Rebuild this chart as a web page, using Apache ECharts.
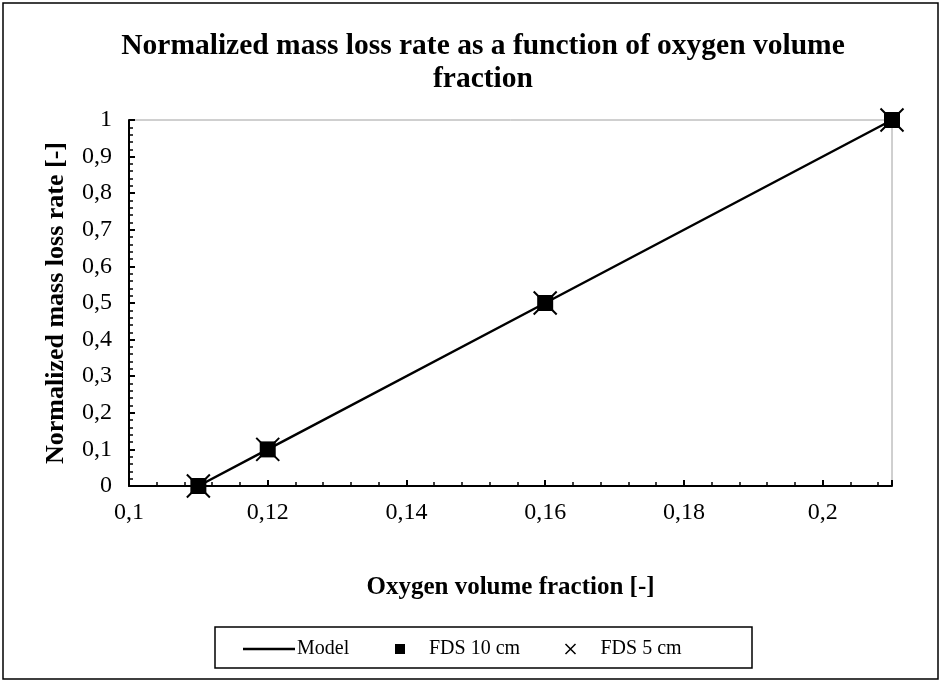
<!DOCTYPE html>
<html><head><meta charset="utf-8">
<script src="https://cdn.jsdelivr.net/npm/echarts@6/dist/echarts.min.js"></script>
<style>html,body{margin:0;padding:0;background:#fff}#c{width:942px;height:682px}</style>
</head><body><div id="c"></div>
<script>
const oxygen = [0.11, 0.12, 0.16, 0.21];
const modelRate = [0, 0.1, 0.5, 1];
const fds10 = [0, 0.1, 0.5, 1];
const fds5 = [0, 0.1, 0.5, 1];
const xTicks = [0.1, 0.12, 0.14, 0.16, 0.18, 0.2];
const yTicks = [0, 0.1, 0.2, 0.3, 0.4, 0.5, 0.6, 0.7, 0.8, 0.9, 1];

const FONT = '"Liberation Serif", serif';
const pairs = a => oxygen.map((x, i) => [x, a[i]]);
const fmt = v => String(+v.toFixed(2)).replace('.', ',');
const chart = echarts.init(document.getElementById('c'));
chart.setOption({
  animation: false,
  backgroundColor: '#fff',
  title: {
    text: 'Normalized mass loss rate as a function of oxygen volume\nfraction',
    left: 478, top: 25, textAlign: 'center',
    textStyle: {fontFamily: FONT, fontSize: 29.5, fontWeight: 'bold', color: '#000', lineHeight: 33}
  },
  grid: {left: 129, right: 50, top: 120, bottom: 196, show: true, borderColor: '#a0a0a0', borderWidth: 1},
  xAxis: [{
    type: 'value', min: 0.1, max: 0.21, interval: 0.02, position: 'bottom',
    name: 'Oxygen volume fraction [-]', nameLocation: 'middle', nameGap: 89,
    nameTextStyle: {fontFamily: FONT, fontSize: 25, fontWeight: 'bold', color: '#000'},
    axisLine: {lineStyle: {color: '#000', width: 2}},
    axisTick: {inside: true, length: 6, lineStyle: {color: '#000', width: 2}},
    axisLabel: {fontFamily: FONT, fontSize: 24, color: '#000', margin: 15,
      formatter: v => xTicks.some(t => Math.abs(t - v) < 1e-6) ? fmt(v) : ''},
    splitLine: {show: false}
  }, {
    type: 'value', min: 0.1, max: 0.21, interval: 0.004, position: 'bottom',
    axisLine: {show: false},
    axisTick: {inside: true, length: 4, lineStyle: {color: '#000', width: 1.5}},
    axisLabel: {show: false}, splitLine: {show: false}
  }],
  yAxis: {
    type: 'value', min: 0, max: 1, interval: 0.1,
    name: 'Normalized mass loss rate [-]', nameLocation: 'middle', nameGap: 60,
    nameTextStyle: {fontFamily: FONT, fontSize: 26, fontWeight: 'bold', color: '#000'},
    axisLine: {show: true, lineStyle: {color: '#000', width: 2}},
    axisTick: {show: true, inside: true, length: 6, lineStyle: {color: '#000', width: 2}},
    minorTick: {show: true, splitNumber: 5, length: 4, lineStyle: {color: '#000', width: 1.5}},
    axisLabel: {fontFamily: FONT, fontSize: 24, color: '#000', margin: 17,
      formatter: v => yTicks.some(t => Math.abs(t - v) < 1e-6) ? fmt(v) : ''},
    splitLine: {show: false}
  },
  legend: [{
    data: ['Model'], left: 243, top: 639, padding: 0, itemWidth: 52, itemHeight: 2.5, icon: 'rect',
    itemStyle: {color: '#000', opacity: 1},
    textStyle: {fontFamily: FONT, fontSize: 20, color: '#000', padding: [0, 0, 0, -3]}
  }, {
    data: ['FDS 10 cm'], left: 395, top: 639, padding: 0, itemWidth: 10, itemHeight: 10, icon: 'rect',
    itemStyle: {color: '#000', opacity: 1},
    textStyle: {fontFamily: FONT, fontSize: 20, color: '#000', padding: [0, 0, 0, 19]}
  }, {
    data: ['FDS 5 cm'], left: 563, top: 639, padding: 0, itemWidth: 10, itemHeight: 10,
    icon: 'path://M0,0L10,10M10,0L0,10',
    itemStyle: {color: 'none', borderColor: '#000', borderWidth: 1.5, opacity: 1},
    textStyle: {fontFamily: FONT, fontSize: 20, color: '#000', padding: [0, 0, 0, 20]}
  }],
  graphic: [
    {type: 'rect', shape: {x: 3, y: 3, width: 935, height: 676}, style: {fill: 'none', stroke: '#000', lineWidth: 1.5}, silent: true},
    {type: 'rect', shape: {x: 215, y: 627, width: 537, height: 41}, style: {fill: 'none', stroke: '#000', lineWidth: 1.5}, silent: true}
  ],
  series: [{
    name: 'Model', type: 'line', data: pairs(modelRate), symbol: 'none', clip: false,
    lineStyle: {color: '#000', width: 2.5}, itemStyle: {color: '#000'}, z: 2
  }, {
    name: 'FDS 5 cm', type: 'scatter', data: pairs(fds5), clip: false,
    symbol: 'path://M0,0L10,10M10,0L0,10', symbolSize: 23,
    itemStyle: {color: 'none', borderColor: '#000', borderWidth: 2, opacity: 1}, z: 3
  }, {
    name: 'FDS 10 cm', type: 'scatter', data: pairs(fds10), clip: false,
    symbol: 'rect', symbolSize: 16, itemStyle: {color: '#000', opacity: 1}, z: 4
  }]
});
</script>
</body></html>
